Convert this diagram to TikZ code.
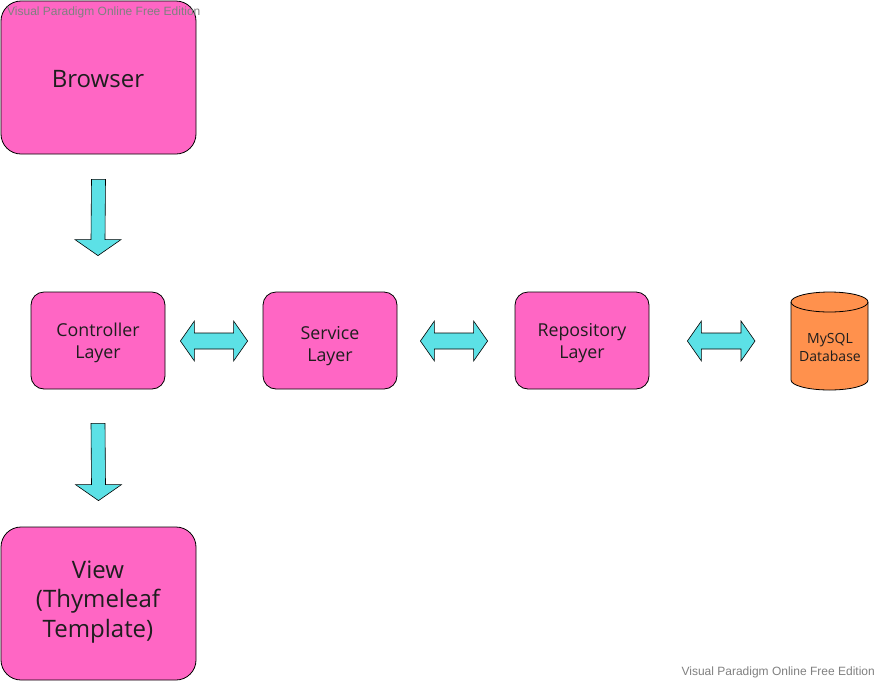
\documentclass[tikz,border=0pt]{standalone}
\usepackage{fontspec}
\setmainfont{Open Sans}
\newfontfamily\wmfont{Liberation Sans}
\usetikzlibrary{calc}
\definecolor{boxpink}{HTML}{FF66C4}
\definecolor{arrcyan}{HTML}{5CE1E6}
\definecolor{dborange}{HTML}{FF914D}
\definecolor{txtdark}{HTML}{1E1E1E}
\definecolor{wmgray}{HTML}{808080}
\begin{document}
\begin{tikzpicture}[x=1pt,y=1pt,
  bigbox/.style={draw=black,line width=0.8pt,fill=boxpink,rounded corners=20pt,
    minimum width=195pt,minimum height=153pt,inner sep=0pt},
  layerbox/.style={draw=black,line width=0.8pt,fill=boxpink,rounded corners=13pt,
    minimum width=134pt,minimum height=97pt,inner sep=0pt},
  bigtext/.style={text=txtdark,font=\fontsize{24}{29.5}\selectfont,align=center,inner sep=0pt},
  layertext/.style={text=txtdark,font=\fontsize{17.8}{22}\selectfont,align=center,inner sep=0pt},
  blk/.style={draw=black,line width=0.6pt,fill=arrcyan,line join=miter},
  wm/.style={text=wmgray,font=\wmfont\fontsize{12}{14}\selectfont,inner sep=0pt}]
\useasboundingbox (0,0) rectangle (881,-681);
% boxes
\node[bigbox] (browser) at (98.5,-77.5) {};
\node[layerbox] (ctrl) at (98,-340.5) {};
\node[layerbox] (svc) at (330,-340.5) {};
\node[layerbox] (repo) at (582,-340.5) {};
\node[bigbox] (view) at (98.5,-603.5) {};
% labels
\node[bigtext] (browsert) at (98,-79.5) {Browser};
\node[layertext] (ctrlt) at (98,-343) {Controller\\Layer};
\node[layertext] (svct) at (330,-346) {Service\\Layer};
\node[layertext] (repot) at (582,-343) {Repository\\Layer};
\node[bigtext] (viewt) at (98,-602) {View\\(Thymeleaf\\Template)};
% database cylinder
\fill[dborange] (791,-302) -- (791,-380) arc (180:360:38.5 and 10) -- (868,-302) arc (0:180:38.5 and 10) -- cycle;
\draw[line width=0.8pt] (791,-302) -- (791,-380) arc (180:360:38.5 and 10) -- (868,-302);
\draw[line width=0.8pt] (829.5,-302) ellipse (38.5 and 10);
\node[text=txtdark,font=\fontsize{14}{18}\selectfont,align=center,inner sep=0pt] (db) at (830,-347.5) {MySQL\\Database};
% connector endpoints
\coordinate (a1s) at ($(browser.south)+(0,-25)$);
\coordinate (a1e) at ($(ctrl.north)+(0,36)$);
\coordinate (a2s) at ($(ctrl.south)+(0,-34)$);
\coordinate (a2e) at ($(view.north)+(0,26)$);
\coordinate (l1) at ($(ctrl.east)+(15,-0.5)$); \coordinate (r1) at ($(svc.west)+(-15,-0.5)$);
\coordinate (l2) at ($(svc.east)+(23,-0.5)$);  \coordinate (r2) at ($(repo.west)+(-27,-0.5)$);
\coordinate (l3) at ($(repo.east)+(38,-0.5)$); \coordinate (r3) at (755,-341);
% down arrows
\foreach \s/\e in {a1s/a1e,a2s/a2e}{
  \draw[blk] ($(\s)+(-7,0)$) -- ($(\e)+(-7,16)$) -- ($(\e)+(-23,16)$) -- (\e)
    -- ($(\e)+(23,16)$) -- ($(\e)+(7,16)$) -- ($(\s)+(7,0)$) -- cycle;
}
% double arrows
\foreach \l/\r in {l1/r1,l2/r2,l3/r3}{
  \draw[blk] (\l) -- ($(\l)+(14,20)$) -- ($(\l)+(14,8)$) -- ($(\r)+(-14,8)$)
    -- ($(\r)+(-14,20)$) -- (\r) -- ($(\r)+(-14,-20)$) -- ($(\r)+(-14,-8)$)
    -- ($(\l)+(14,-8)$) -- ($(\l)+(14,-20)$) -- cycle;
}
% watermarks
\node[wm,anchor=west] (wm1) at (7,-12) {Visual Paradigm Online Free Edition};
\node[wm,anchor=east] (wm2) at (875,-672) {Visual Paradigm Online Free Edition};
\end{tikzpicture}
\end{document}
